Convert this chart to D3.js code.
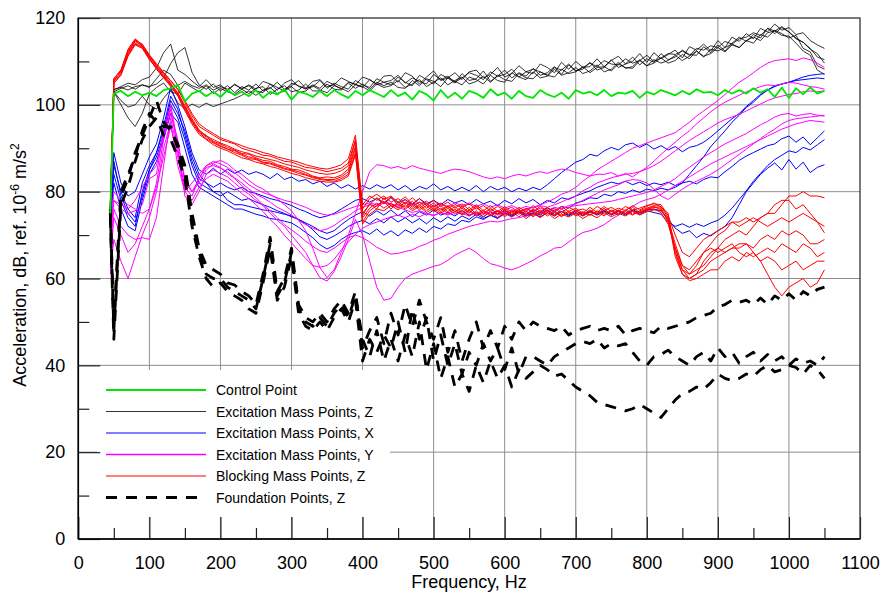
<!DOCTYPE html>
<html>
<head>
<meta charset="utf-8">
<script src="https://cdn.jsdelivr.net/npm/d3@7"></script>
<style>
  body { margin: 0; background: #fff; }
  svg { display: block; font-family: Arial, "Liberation Sans", sans-serif; }
</style>
</head>
<body>
<div id="chart"></div>
<script>
// frequency grid, Hz (45, 50, then every 10 Hz)
const freqs = [
  45, 50, 60, 70, 80, 90, 100, 110, 120, 130,
  140, 150, 160, 170, 180, 190, 200, 210, 220, 230,
  240, 250, 260, 270, 280, 290, 300, 310, 320, 330,
  340, 350, 360, 370, 380, 390, 400, 410, 420, 430,
  440, 450, 460, 470, 480, 490, 500, 510, 520, 530,
  540, 550, 560, 570, 580, 590, 600, 610, 620, 630,
  640, 650, 660, 670, 680, 690, 700, 710, 720, 730,
  740, 750, 760, 770, 780, 790, 800, 810, 820, 830,
  840, 850, 860, 870, 880, 890, 900, 910, 920, 930,
  940, 950, 960, 970, 980, 990, 1000, 1010, 1020, 1030,
  1040, 1050
];

const xTicks = [0, 100, 200, 300, 400, 500, 600, 700, 800, 900, 1000, 1100];
const yTicks = [0, 20, 40, 60, 80, 100, 120];

// control point
const control = [
  75, 102.6, 103.2, 102, 103, 102.2, 102.8, 102, 103.4, 103.8,
  104.6, 100.8, 102.6, 103.2, 102, 103, 101.8, 103.4, 102.2, 103,
  102, 103.4, 101.6, 103, 102.4, 103.6, 101.2, 103, 102.6, 101.8,
  103.2, 102, 103.4, 102.4, 101.6, 103.2, 102.2, 103.4, 102.6, 101.8,
  103.4, 102, 102.8, 101.2, 103.2, 102.4, 101, 103.4, 101.6, 102.8,
  101.4, 103.2, 102.6, 101.6, 103.6, 102.2, 102.8, 101.4, 103.2, 102,
  101.6, 103.4, 102.4, 101.8, 102.8, 101.4, 103.4, 102.6, 103, 102.2,
  103.4, 102, 102.8, 102.6, 103.2, 101.6, 103, 102.4, 103.4, 102.8,
  102.2, 103.2, 102.4, 103.6, 102.8, 103, 102.2, 103.4, 102.6, 103.4,
  102.6, 103.8, 102.8, 103.6, 101.8, 104, 101.6, 103.8, 102.4, 104,
  102.6, 103.2
];

// excitation mass points, Z
const excZ1 = [
  76, 103.5, 104.2, 105, 104.6, 105.8, 106.4, 108.5, 112, 114,
  108, 107, 105.5, 104.2, 105.8, 104, 104.6, 103.2, 104.8, 103.6,
  104.6, 103.6, 105.4, 104.8, 103.4, 105, 105.8, 104.2, 103.8, 105.4,
  105.8, 104.2, 104.6, 106.2, 105.4, 104.6, 106.4, 105.8, 104.8, 106.6,
  106.8, 105.2, 107.4, 106.6, 104.8, 106.4, 107.8, 105.6, 106.2, 107.4,
  105.8, 107.6, 108, 106.2, 107, 108.6, 106.4, 107.2, 109, 107.6,
  107.2, 109.4, 108.6, 107.4, 109.8, 108.2, 110, 108.6, 108.8, 110.6,
  108.8, 110.2, 111.2, 109.4, 110, 111.8, 109.8, 112, 110.6, 111.6,
  112.6, 110.8, 113.4, 112.6, 114, 112.4, 114.8, 113.2, 115.6, 114.6,
  116.4, 115.2, 117.6, 116.8, 118.6, 117.2, 117.8, 116.2, 116.6, 114.8,
  113.8, 113
];
const excZ2 = [
  75, 103, 103.8, 104.4, 103.6, 104.6, 104.2, 104.8, 106.2, 109.5,
  112, 113.2, 107.5, 104.6, 103.6, 104.8, 103.2, 104.4, 102.8, 104.2,
  103.4, 104.8, 103.2, 103.8, 105.2, 103.6, 104.4, 105.6, 103.8, 104.2,
  105.6, 103.8, 105, 104.2, 103.6, 105.6, 104.6, 104, 106, 105.2,
  104.6, 106.4, 105.2, 104.4, 106.8, 105.8, 104.8, 107, 106.2, 105,
  107.2, 105.6, 106, 107.8, 105.4, 106.6, 108, 106.2, 107.4, 106.6,
  108.4, 106.8, 107.4, 108.8, 107, 109.2, 107.8, 108.2, 109.8, 108,
  108.6, 110.4, 108.6, 109.4, 111, 109.2, 110.6, 109.8, 111.8, 110.4,
  111, 112.6, 111.6, 111.4, 113.4, 112, 113.8, 112.4, 114.2, 115.6,
  114.6, 116.2, 115.4, 117.6, 116.4, 117.8, 116.8, 115.2, 114.4, 113,
  111, 110.4
];
const excZ3 = [
  76, 103, 100, 97, 95, 98, 102.5, 104, 105, 103,
  102.5, 105, 104, 103, 104.4, 102.6, 103.8, 103, 102.4, 103.6,
  102.6, 103.8, 104.2, 102.4, 103.6, 104.4, 103, 103.4, 104.8, 103.2,
  103.2, 104.8, 103.6, 103.4, 105, 103.8, 104.8, 103.6, 105.2, 104.4,
  105.2, 104, 103.8, 105.6, 104.4, 106, 105.4, 104.2, 106.2, 105.4,
  104.6, 106.4, 105.8, 104.8, 106.8, 105.6, 105.2, 107.4, 106.4, 105.8,
  107.6, 106.2, 106.6, 108.2, 106.8, 107.4, 108.6, 107.2, 107.8, 109.2,
  107.6, 108.2, 109.8, 108.4, 108.8, 110.4, 109, 109.6, 110.8, 109.6,
  110.2, 111.6, 110.6, 112.4, 111.2, 111.8, 113.2, 112.2, 113.8, 113.2,
  114.8, 114.2, 116.2, 115.6, 117.2, 116.4, 115.4, 116, 113, 112.2,
  109, 108.2
];
const excZ4 = [
  75, 103, 101, 99.5, 100, 102, 100, 99, 101.5, 103.5,
  100.5, 99, 100.2, 99.4, 100.4, 99.6, 100.2, 100.8, 101.4, 102.2,
  103.2, 102.2, 103.4, 104, 102.6, 103.2, 104.2, 102.8, 103.2, 104.4,
  103.4, 102.8, 104.4, 103.8, 103, 104.6, 104.2, 103.2, 104.8, 104,
  104.4, 105.6, 104, 104.8, 105.8, 104.2, 105.2, 106.2, 104.6, 105.6,
  106.4, 104.8, 105.4, 106.6, 105.2, 106.8, 105.8, 105.4, 107.2, 106.2,
  106, 107.6, 106.8, 106.4, 108.2, 107.2, 107.6, 108.8, 107.4, 108.6,
  108.8, 107.8, 109.4, 108.6, 108.4, 110.2, 109, 110.4, 109.6, 110.2,
  111.4, 110.2, 111.2, 112.4, 111, 112.8, 112.4, 113.2, 114, 113.2,
  114.8, 115.6, 114.8, 116.6, 117, 116, 115.8, 114.2, 112.4, 111.4,
  108, 107
];
const excZ5 = [
  76, 103.5, 104, 103.4, 104.2, 104.6, 104, 106, 108, 107,
  104.5, 105.4, 104.4, 103.8, 104.6, 103.4, 104.2, 103.6, 104.6, 103.8,
  104.4, 103.2, 102.8, 104.8, 104, 103.2, 105, 104.4, 103.6, 104.6,
  103.8, 105.4, 104.6, 103.6, 105.2, 104.8, 104, 105.8, 104.6, 105.2,
  105.6, 106.8, 105, 106.2, 105.4, 104.8, 107, 105.8, 106.6, 105.2,
  106.2, 107.4, 106.8, 105.8, 107.6, 106.6, 107, 108.2, 106.4, 107.6,
  108.2, 107.6, 106.8, 108.6, 108, 109.4, 107.8, 108.6, 109.6, 108.8,
  110.2, 109.4, 109.2, 110.6, 109.6, 110.2, 111.4, 110, 110.8, 111.8,
  111.6, 112.4, 111.4, 113, 112.6, 113.6, 113.2, 114.6, 114, 115.2,
  115.6, 116.6, 116, 117.6, 117, 118, 116.8, 115.4, 114.4, 112.8,
  111.8, 109.6
];

// excitation mass points, X
const excX1 = [
  73, 89, 82, 79, 80, 84, 88, 91, 97, 104,
  100, 95, 89, 85, 84, 85.4, 84, 85.2, 84.2, 85,
  84, 84.6, 84, 83, 84.2, 82.8, 83.4, 82.4, 82.8, 81.8,
  82.4, 81.2, 82, 80.8, 81.6, 80.6, 81.4, 80.6, 81.6, 80.8,
  81.6, 80.4, 81.4, 80.2, 81.2, 80.6, 81.8, 80.4, 81.2, 80.2,
  81, 80.2, 81.4, 80, 81.2, 80.4, 81, 80, 80.8, 80.2,
  81, 80.4, 81.6, 83, 84.4, 85.6, 86.8, 87.4, 88.6, 88.2,
  89.4, 90.2, 89.6, 90.8, 91.2, 90.2, 91, 89.8, 90.6, 89.6,
  90.4, 89.2, 90.2, 90.6, 91.4, 92.6, 94, 95.4, 96.8, 98,
  99.6, 101, 102.4, 103.4, 104.2, 104.8, 105.2, 105.6, 105.8, 106,
  106.2, 106
];
const excX2 = [
  75, 86, 80, 76, 74, 82, 86, 89, 95, 102,
  99, 93, 87, 83, 82, 81, 82, 81, 80.4, 81,
  80, 79.6, 79, 78.4, 78, 77.4, 76.8, 76, 75.4, 74.6,
  74, 74.4, 75, 76, 77, 78, 78.4, 77.6, 78.4, 77.2,
  78.6, 77.4, 78.2, 77, 78.4, 77.2, 78, 77, 78.2, 77.4,
  78, 77, 78.2, 77.2, 77.8, 76.8, 78, 77.2, 78.4, 77.4,
  78.2, 77, 78, 77.4, 78.6, 78.2, 79, 79.6, 80.2, 81,
  81.6, 82.2, 81.8, 82.4, 81.6, 82.2, 81.4, 82, 81.6, 82.2,
  81.4, 82, 82.4, 81.8, 82.8, 83.4, 83.2, 84.6, 85.8, 87.2,
  88.2, 89, 89.8, 90.6, 91, 92.2, 92.8, 91.4, 92.6, 90.8,
  92.4, 94
];
const excX3 = [
  72, 84, 78, 74, 72, 80, 85, 88, 93, 100,
  97, 92, 86, 82, 81, 80, 79, 80, 79, 78,
  78.4, 77.6, 77, 76.4, 75.6, 75, 74.2, 73.6, 72.8, 72,
  71, 70.4, 71, 72.4, 73.6, 74.6, 75.4, 74.4, 75.6, 74.6,
  75.8, 74.4, 75.6, 74.2, 75.4, 74.6, 75.8, 74.6, 75.2, 74.4,
  75.6, 74.6, 75.2, 74.2, 75.4, 74.8, 75.6, 74.6, 75.4, 74.4,
  75.2, 74.6, 75.8, 74.8, 75.4, 74.4, 75.6, 74.8, 75.4, 74.6,
  75.4, 74.8, 75.6, 75, 75.8, 75.2, 75.8, 76, 75.6, 73.6,
  71.6, 70.4, 71, 69.4, 70.4, 69.8, 71, 72, 74, 77,
  80, 82, 84, 85.4, 86.6, 85, 87.4, 85.2, 86.8, 84.4,
  85.6, 86.2
];
const excX4 = [
  74, 82, 76, 72, 71, 78, 84, 87, 92, 98,
  96, 90, 84, 81, 80, 79, 78, 77, 76, 76,
  75.4, 74.8, 74.4, 73.8, 73.6, 73.2, 72.8, 71.8, 70.6, 69.4,
  67.8, 66.8, 67.6, 69, 70, 70.6, 71, 70.2, 71.4, 70,
  71, 69.8, 71.2, 70.4, 71.6, 70.6, 72, 71.4, 72.6, 72.2,
  73.4, 73, 74.2, 73.6, 74.6, 74, 75.2, 74.4, 75.6, 74.8,
  75.8, 75.2, 76.2, 75.6, 76.6, 76.2, 77.4, 77.8, 78.6, 78.4,
  79.4, 79, 80, 79.6, 80.4, 79.8, 80.6, 80.2, 80.8, 80.4,
  81, 82, 84, 86, 88, 90.4, 92.2, 94, 96, 97.6,
  99.4, 100.6, 102.2, 103.4, 104.4, 104.8, 105.2, 105.8, 106.4, 106.8,
  107, 107.2
];
const excX5 = [
  76, 87, 79, 75, 73, 79, 85, 89, 94, 101,
  98, 94, 88, 84, 82, 80, 80, 78, 77, 77,
  76.6, 76.2, 75.8, 75.6, 75.2, 74.8, 74.4, 73.6, 72.6, 71.2,
  69.6, 69, 69.8, 70.8, 72, 72.8, 73.4, 72.6, 73.8, 72.8,
  74.2, 73, 74, 72.8, 73.8, 72.6, 74, 73, 74.2, 73.2,
  74.4, 73.6, 74.8, 73.8, 74.6, 73.8, 75, 74.2, 75.2, 74.4,
  75, 74.2, 75.2, 74.4, 75.4, 74.6, 75.2, 74.4, 75.6, 74.8,
  75.6, 74.6, 75.4, 74.6, 75.6, 74.8, 75.6, 75.2, 74.8, 73,
  72, 72.6, 71.8, 72.6, 72, 72.8, 73.4, 74.6, 76.2, 78.2,
  80.2, 82.4, 84.2, 86, 87.4, 88.4, 89.4, 89, 90.2, 89.6,
  90.8, 92
];

// excitation mass points, Y
const excY1 = [
  61, 69, 64, 60, 65, 70, 74, 80, 90, 96,
  86, 80, 82, 84, 86, 86.6, 87.2, 86.4, 85, 84,
  82.6, 81.4, 80.6, 79.4, 78.4, 77, 75.6, 73.4, 71, 67,
  62.5, 60.2, 62, 66, 70, 75, 80, 84.6, 86.2, 86,
  85.4, 85.8, 85.2, 86, 85.4, 85, 84.6, 84.2, 84.8, 85.2,
  85, 84.6, 84, 83.4, 83, 83.4, 83, 83.6, 84, 83.6,
  84.2, 84.6, 84.2, 84.8, 85.2, 85, 84.4, 84, 83.6, 84,
  84, 84.4, 83.6, 84.2, 83.4, 84.6, 85.6, 87, 88.6, 90,
  91.4, 92.8, 94, 95.6, 97, 98.4, 99.6, 100.6, 101.4, 102.2,
  103, 103.6, 104.2, 104.6, 104.4, 104.8, 105.2, 105, 104.6, 104.2,
  104, 103.6
];
const excY2 = [
  66, 76, 72, 70, 69, 69.4, 69, 74, 86, 97,
  89, 81, 79, 83, 85.6, 86, 85.4, 84.6, 83.2, 82,
  80.6, 79.4, 78.6, 77.6, 76.4, 75.6, 74.6, 73.4, 72.4, 71.6,
  71, 71.4, 72.2, 73.4, 74.4, 75.6, 76.4, 77, 76.6, 77.4,
  77, 76.4, 75.8, 75.2, 75.6, 75, 74.6, 75.2, 74.8, 75.4,
  75, 74.4, 75.2, 74.8, 75.4, 74.6, 75.2, 75.8, 75.4, 76,
  76.4, 77, 77.6, 78.4, 79.4, 80, 81, 82.4, 83.6, 85,
  86, 87, 88, 89, 90, 90.6, 91.2, 91.8, 92.4, 93,
  93.6, 94.8, 96, 97.4, 98.6, 99.8, 101, 102.4, 103.8, 105.2,
  106.2, 107.4, 108.6, 109.6, 110.2, 110.4, 110.6, 110.2, 110.8, 110.4,
  109.6, 108.6
];
const excY3 = [
  70, 80, 78, 77, 76, 75, 76, 82, 92, 99,
  90, 79, 77, 80, 84, 85, 84.2, 83.4, 82, 80.6,
  79.4, 78, 76.8, 75, 73.4, 72, 70, 68, 66, 63,
  60.2, 59.4, 61.6, 65, 69, 73.6, 70, 64, 58, 55,
  55.4, 58, 60, 61, 61.6, 62.2, 62.8, 63.2, 64.2, 65.4,
  66.2, 67, 66, 64.6, 63.4, 63, 62.4, 62, 62.6, 63.4,
  64.2, 65.2, 66, 67, 67.2, 68.4, 69.6, 70.6, 71, 71.6,
  72.4, 73.6, 74.6, 75.8, 76.6, 77.6, 78.2, 78.6, 79.4, 80.4,
  81.4, 82.4, 83.4, 84.4, 85.4, 86.4, 87.2, 88, 88.8, 89.6,
  90.4, 91.2, 92, 92.8, 93.6, 94.4, 95, 95.6, 96, 96.4,
  96.2, 96
];
const excY4 = [
  68, 78, 76, 75, 75.6, 77, 83, 84, 94, 100,
  91, 83, 80, 82, 85, 86.4, 85.6, 84.2, 83, 81.4,
  80, 78.6, 77, 75.6, 74, 72.4, 71.2, 70, 68.6, 67.4,
  66.4, 66, 67, 68.2, 69.4, 70, 69.4, 68.4, 67.2, 66.4,
  65.6, 65.8, 66.2, 66.6, 67.4, 68, 68.8, 69.4, 70.2, 70.8,
  71.4, 72, 72.4, 72.8, 73.2, 73, 73.4, 73.8, 74, 74.4,
  74.6, 75, 75.4, 75.8, 76.2, 76.4, 76.8, 77, 77.2, 77.4,
  77.6, 77.8, 78.2, 78.6, 79, 79.4, 79.8, 80.4, 81.2, 82,
  83, 84.4, 85.6, 86.8, 88, 89, 90, 91, 91.8, 92.6,
  93.4, 94.4, 95.4, 96.2, 97.2, 97.8, 98, 97.4, 97.8, 98,
  97.6, 97.4
];
const excY5 = [
  63, 74, 70, 66, 68, 72, 76, 81, 88, 95,
  88, 80, 78, 81, 83, 84, 83.2, 82.4, 81, 79.6,
  78.4, 77, 75.4, 73.6, 72, 70, 68.2, 66.4, 64.6, 63,
  62.6, 63, 64.4, 66.6, 68.4, 70.2, 71.6, 72.4, 73, 73.6,
  74.2, 74.6, 74, 74.8, 74.2, 75, 74.4, 75.2, 74.6, 75.4,
  74.8, 75.6, 74.6, 75.4, 74.8, 75.6, 75, 75.8, 75.2, 76,
  75.4, 76.2, 75.6, 76.4, 76, 76.8, 77.2, 78, 78.8, 79.6,
  80.4, 81, 81.6, 82.4, 82.8, 82.6, 82, 80.6, 79, 78.2,
  79.4, 80.6, 81.6, 82.4, 83.2, 84, 85, 86.2, 87.4, 88.6,
  89.8, 91, 92.2, 93.4, 94.4, 95.6, 96.4, 96.8, 97, 97.2,
  97.4, 97.6
];
const excY6 = [
  72, 78, 77, 76, 78, 81, 84, 86, 93, 98,
  92, 82, 80, 83, 86, 87, 86.4, 85.6, 84.4, 83,
  81.6, 80.6, 79.8, 79.2, 78.6, 78, 77.6, 77, 76.4, 75.6,
  75, 74.6, 74.8, 75.4, 76, 76.6, 77, 77.4, 77, 77.6,
  77.2, 76.6, 77.4, 76.8, 77.6, 77, 76.4, 77.2, 76.6, 77.4,
  76.8, 77.4, 76.6, 77.2, 76.4, 77, 76.2, 76.8, 76, 76.6,
  76.2, 76.8, 76.4, 77, 77.6, 78.4, 79, 80.2, 81, 82,
  82.6, 83.2, 83.6, 84, 84.2, 84.6, 85.2, 86, 87, 88.2,
  89.4, 90.6, 91.8, 92.8, 93.8, 94.8, 95.8, 96.6, 97.2, 97.8,
  98.6, 99.4, 100.2, 101, 101.6, 102, 102.4, 102.6, 103, 103.2,
  103, 103.2
];

// blocking mass points, Z
const blockZ1 = [
  76, 106, 108, 112.5, 115, 114, 111.5, 109.5, 107.5, 105.5,
  103.5, 100.5, 97.5, 95, 94, 93, 92, 91.5, 91, 90,
  89.5, 89, 88.4, 88.2, 87.6, 87, 86.8, 86.2, 85.6, 85.4,
  85, 84.6, 85, 85.4, 86.6, 92, 77, 79, 78, 79,
  77.6, 78.4, 77.2, 78.6, 77, 77.8, 76.6, 77.4, 76.2, 77,
  76.4, 77.2, 76, 76.8, 75.6, 76.6, 75.8, 76.4, 75.2, 76.2,
  75.4, 76.6, 75.6, 76.2, 75, 76.4, 75.6, 76, 75.2, 76.6,
  75.6, 76.4, 75.4, 76.6, 75.8, 76.2, 76.8, 77.2, 77, 74.5,
  70, 66, 65, 67, 69, 70, 71, 72, 73, 73,
  74, 73, 74, 75, 75, 77, 79, 79, 80, 79,
  79, 78.6
];
const blockZ2 = [
  75, 105.5, 107.6, 112, 114.6, 113.6, 111, 109, 107.2, 105,
  102.6, 99.5, 96.5, 94, 93, 91.6, 91, 90.2, 89.6, 88.8,
  88.6, 87.8, 87.2, 87, 86.2, 85.8, 85.2, 85, 84.4, 83.6,
  83.2, 83.4, 83.2, 83.8, 85.2, 90.5, 75, 77, 78.6, 77.4,
  78.8, 76.8, 78.2, 76.4, 77.6, 76.2, 77.4, 75.8, 76.8, 75.4,
  76.6, 75.2, 76.8, 74.8, 76, 75, 76.2, 74.6, 75.8, 74.8,
  76, 75, 75.8, 74.6, 76, 74.8, 75.6, 74.6, 75.8, 74.8,
  76.2, 74.6, 75.8, 75, 76.4, 75.2, 76, 76.6, 75.8, 73.5,
  68, 63, 62, 64, 66, 68, 70, 71, 73, 72,
  73, 74, 73, 72, 73, 74, 73, 74, 75, 74,
  73, 72
];
const blockZ3 = [
  77, 105, 107, 111.5, 114, 113.4, 110.6, 108.6, 106.6, 104.6,
  102.4, 99, 96, 93.6, 92.2, 91.2, 90.4, 89.8, 89, 88.4,
  87.6, 87.4, 86.6, 86.4, 85.8, 85.2, 84.8, 84.2, 83.8, 83.2,
  82.8, 82.6, 82.4, 83, 84, 89, 73, 75.6, 76.8, 77.8,
  76, 77.6, 76.4, 77.8, 76.2, 77.4, 75.8, 76.8, 75.4, 76.6,
  75, 76.4, 74.8, 75.8, 74.4, 75.6, 74.6, 75.4, 74.2, 75.4,
  74.6, 75.8, 74.4, 75.4, 74.2, 75.6, 74.4, 75.2, 74.6, 75.6,
  74.8, 75.6, 74.6, 75.8, 74.8, 75.4, 75.8, 76, 75.2, 72.5,
  67, 62, 61, 62, 63, 65, 67, 69, 70, 71,
  70, 72, 74, 75, 77, 78, 78, 76, 77, 75,
  73, 70.5
];
const blockZ4 = [
  74, 106, 108, 112.8, 115.2, 113.8, 111.4, 109.2, 107.4, 105.6,
  103.6, 101, 98, 95.6, 94.4, 93.4, 92.4, 91.8, 91.2, 90.6,
  90, 89.6, 89, 88.6, 88, 87.6, 87.2, 86.8, 86.2, 85.8,
  85.4, 85.2, 85.6, 86.2, 87.6, 93, 76, 78.4, 79.4, 78.2,
  79, 77.6, 78.8, 77.2, 78.4, 76.8, 78, 76.6, 77.6, 76.2,
  77.2, 75.8, 77, 75.6, 76.8, 75.4, 76.6, 75.2, 76.4, 75.4,
  76.8, 75.4, 76.4, 75.2, 76.6, 75.4, 76.2, 75, 76.4, 75.2,
  76.6, 75.4, 76.2, 75.6, 76.8, 75.8, 76.6, 77.4, 76.4, 75,
  66, 61, 60, 61, 62, 64, 65, 66, 67, 68,
  68, 67, 69, 70, 69, 71, 70, 71, 70, 68,
  68, 69
];
const blockZ5 = [
  75, 105, 106.8, 111.2, 113.8, 113, 110.4, 108.4, 106.4, 104.2,
  102, 98.6, 95.6, 93.2, 92, 90.8, 90, 89.4, 88.6, 87.8,
  87.4, 86.8, 86.4, 85.8, 85.4, 84.8, 84.2, 83.8, 83.2, 82.8,
  82.4, 82.2, 82.2, 82.6, 83.6, 88.5, 72.5, 74.8, 76, 75.6,
  76.8, 75.8, 77, 75.6, 76.6, 75.2, 76.2, 75, 76.2, 74.8,
  75.8, 74.4, 75.6, 74.2, 75.4, 74, 75.2, 74.2, 75.4, 73.8,
  75, 74, 75.2, 73.8, 74.8, 74.2, 75, 73.8, 74.8, 74,
  75.2, 74.2, 75, 74.4, 75.4, 74.6, 75.4, 75.8, 75.6, 74,
  65, 61, 59.5, 60, 61, 62, 62, 64, 65, 64,
  66, 65, 66, 67, 66, 68, 67, 66, 68, 67,
  65, 66
];
const blockZ6 = [
  76, 106, 107.8, 112.2, 114.8, 113.6, 111.2, 108.8, 106.8, 104.8,
  102.8, 99.8, 96.8, 94.2, 92.8, 92, 91.2, 90.6, 89.8, 89.2,
  88.8, 88.2, 87.8, 87.4, 87, 86.4, 86, 85.6, 85, 84.6,
  84.2, 84, 84.2, 84.8, 86, 91.5, 74, 76.2, 77.4, 76.2,
  77.4, 76.2, 77.6, 76, 77, 75.6, 76.8, 75.4, 76.6, 75.4,
  76.2, 75, 76.4, 75, 76.2, 74.8, 75.8, 74.8, 76, 74.6,
  75.6, 74.6, 75.6, 74.4, 75.4, 74.8, 75.8, 74.4, 75.2, 74.8,
  75.8, 75, 75.6, 74.8, 75.6, 75, 75.8, 76.4, 76.2, 73,
  67, 63, 61, 63, 66, 67, 66, 67, 68, 66,
  65, 66, 64, 65, 64, 62, 63, 64, 62, 63,
  64, 64
];
const blockZ7 = [
  77, 105.5, 107.2, 111.6, 114.2, 113.2, 110.8, 108.2, 106.2, 104.4,
  102.2, 99.2, 96.2, 93.8, 92.6, 91.4, 90.6, 89.8, 89.4, 88.6,
  88, 87.6, 86.8, 86.6, 86, 85.4, 85, 84.6, 84, 83.4,
  83, 82.8, 82.8, 83.4, 84.6, 90, 74.5, 77.2, 76, 78.6,
  76.6, 77.2, 76, 77.2, 75.8, 76.8, 75.4, 76.2, 75, 76,
  74.6, 75.8, 74.4, 75.4, 74.8, 75.6, 74.2, 75.6, 74.8, 75.6,
  74.2, 75.4, 74.8, 75.6, 74.4, 75.2, 74.8, 75.4, 74.6, 75.4,
  74.4, 75.8, 74.8, 75.4, 74.6, 75.6, 76.2, 76.8, 76.6, 74,
  66, 62, 60, 61, 64, 66, 67, 66, 67, 67,
  68, 66, 64, 61, 58, 56, 58, 59, 60, 58,
  59, 62
];

// foundation points, Z
const foundZ1 = [
  76, 48, 79, 83, 89, 93, 97, 101, 96, 94,
  91, 86, 75, 67, 63, 62, 61, 59, 58.5, 57,
  56, 54, 61, 69.5, 57, 60, 67, 54, 51, 50,
  52, 50, 53, 55, 52, 57, 44, 48, 51, 45,
  52, 47, 54, 49, 55, 50, 46, 51, 43, 48,
  41, 46, 50, 44, 48, 44, 49, 46, 50, 48,
  50, 49, 48.5, 48, 49, 47, 48, 48.5, 49, 48,
  48.5, 48, 49, 47, 48, 48.5, 48, 47.5, 49, 48.5,
  49, 49.5, 50, 51, 51.5, 52, 53.5, 54, 55, 54.5,
  55, 54, 55.5, 54, 56, 55, 56.5, 55, 57, 56,
  57.5, 58
];
const foundZ2 = [
  74, 46, 77, 81, 87, 92, 95, 97, 93, 92,
  88, 83, 72, 65, 60, 58, 59, 57, 56, 55,
  53, 52, 59, 67, 55, 58, 65, 52, 49, 48,
  50, 48, 51, 53, 50, 55, 41, 46, 43, 47,
  44, 50, 43, 53, 46, 51, 41, 47, 40, 45,
  38, 43, 40, 45, 41, 44, 39, 44, 38, 42,
  42, 41, 40, 42, 43, 44, 45, 45.5, 45, 46,
  44, 45, 44.5, 45, 43, 41, 40, 42, 42.5, 43.5,
  42, 41, 40, 42, 43, 41, 44, 42, 43, 40.5,
  42, 43, 41, 42.5, 41, 42, 40, 41.5, 40.5, 41,
  40, 42
];
const foundZ3 = [
  75, 50, 80, 84, 88, 94, 98, 96, 95, 95,
  90, 84, 73, 66, 61, 60, 60, 58, 57, 56,
  55, 53, 60, 68, 56, 59, 66, 53, 50, 49,
  51, 49, 52, 54, 51, 56, 46, 42, 48, 41,
  46, 41, 47, 42, 50, 39, 45, 37, 42, 35,
  38, 34, 40, 36, 41, 37, 40, 35, 39, 37,
  38.5, 40, 39, 37.5, 38, 36.5, 35, 34, 33, 31.5,
  31, 30.5, 30, 29.5, 30, 31, 30, 29, 28, 30,
  32, 33.5, 34, 35, 34.5, 36, 38, 37, 36.5, 37,
  38, 37.5, 39, 40, 38.5, 39, 40, 39.5, 38, 40,
  39, 37
];

const groups = [
  { name: "Excitation Mass Points, Z", series: [excZ1, excZ2, excZ3, excZ4, excZ5], color: "#000", width: 0.8 },
  { name: "Excitation Mass Points, X", series: [excX1, excX2, excX3, excX4, excX5], color: "#0000ff", width: 1 },
  { name: "Excitation Mass Points, Y", series: [excY1, excY2, excY3, excY4, excY5, excY6], color: "#ff00ff", width: 1 },
  { name: "Blocking Mass Points, Z", series: [blockZ1, blockZ2, blockZ3, blockZ4, blockZ5, blockZ6, blockZ7], color: "#ff0000", width: 1 },
  { name: "Foundation Points, Z", series: [foundZ1, foundZ2, foundZ3], color: "#000", width: 2.8, dash: "11,9" },
  { name: "Control Point", series: [control], color: "#00e600", width: 1.8 }
];

const legendItems = [
  { label: "Control Point", color: "#00e600", width: 1.8 },
  { label: "Excitation Mass Points, Z", color: "#000", width: 0.8 },
  { label: "Excitation Mass Points, X", color: "#0000ff", width: 1 },
  { label: "Excitation Mass Points, Y", color: "#ff00ff", width: 1.4 },
  { label: "Blocking Mass Points, Z", color: "#ff0000", width: 1 },
  { label: "Foundation Points, Z", color: "#000", width: 2.8, dash: "11,9" }
];

const W = 887, H = 595;
const M = { left: 78.3, right: 860, top: 18, bottom: 539 };

const svg = d3.select("#chart").append("svg")
  .attr("width", W).attr("height", H).attr("viewBox", `0 0 ${W} ${H}`);

const x = d3.scaleLinear().domain([0, 1100]).range([M.left, M.right]);
const y = d3.scaleLinear().domain([0, 120]).range([M.bottom, M.top]);

// grid
svg.append("g").selectAll("line").data(xTicks.slice(1, -1)).join("line")
  .attr("x1", d => x(d)).attr("x2", d => x(d))
  .attr("y1", M.top).attr("y2", M.bottom)
  .attr("stroke", "#8f8f8f").attr("stroke-width", 1);
svg.append("g").selectAll("line").data(yTicks.slice(1, -1)).join("line")
  .attr("x1", M.left).attr("x2", M.right)
  .attr("y1", d => y(d)).attr("y2", d => y(d))
  .attr("stroke", "#8f8f8f").attr("stroke-width", 1);

// legend box hides the grid behind it
svg.append("rect")
  .attr("x", 97).attr("y", 370).attr("width", 293).attr("height", 147)
  .attr("fill", "#fff");

// data
const line = d3.line().x((d, i) => x(freqs[i])).y(d => y(d));
const plot = svg.append("g");
groups.forEach(g => {
  plot.append("g").selectAll("path").data(g.series).join("path")
    .attr("d", line)
    .attr("fill", "none")
    .attr("stroke", g.color)
    .attr("stroke-width", g.width)
    .attr("stroke-dasharray", g.dash || null)
    .attr("stroke-linejoin", "round");
});

// axes with inside ticks
const xMinor = d3.axisBottom(x).tickValues(d3.range(50, 1100, 100)).tickSize(-11).tickFormat("").tickSizeOuter(0);
const xMajor = d3.axisBottom(x).tickValues(xTicks).tickSize(-22).tickPadding(17).tickSizeOuter(0).tickFormat(d3.format("d"));
const yMinor = d3.axisLeft(y).tickValues(d3.range(10, 120, 20)).tickSize(-11).tickFormat("").tickSizeOuter(0);
const yMajor = d3.axisLeft(y).tickValues(yTicks).tickSize(-22).tickPadding(13).tickSizeOuter(0).tickFormat(d3.format("d"));

[xMinor, xMajor].forEach(a => svg.append("g").attr("transform", `translate(0,${M.bottom})`).call(a));
[yMinor, yMajor].forEach(a => svg.append("g").attr("transform", `translate(${M.left},0)`).call(a));

svg.selectAll(".tick line").attr("stroke", "#222").attr("stroke-width", 1.2);
svg.selectAll(".domain").remove();
svg.selectAll(".tick text").attr("font-size", 18).attr("fill", "#000")
  .attr("font-family", "Arial, 'Liberation Sans', sans-serif");

// frame
svg.append("rect")
  .attr("x", M.left).attr("y", M.top)
  .attr("width", M.right - M.left).attr("height", M.bottom - M.top)
  .attr("fill", "none").attr("stroke", "#333").attr("stroke-width", 1.3);
svg.append("line").attr("x1", M.left).attr("x2", M.left).attr("y1", M.top).attr("y2", M.bottom)
  .attr("stroke", "#000").attr("stroke-width", 1.6);
svg.append("line").attr("x1", M.left).attr("x2", M.right).attr("y1", M.bottom).attr("y2", M.bottom)
  .attr("stroke", "#000").attr("stroke-width", 1.6);

// legend
const leg = svg.append("g");
legendItems.forEach((d, i) => {
  const ly = 390 + i * 21.5;
  leg.append("line")
    .attr("x1", 106).attr("x2", 206).attr("y1", ly).attr("y2", ly)
    .attr("stroke", d.color).attr("stroke-width", d.width)
    .attr("stroke-dasharray", d.dash || null);
  leg.append("text")
    .attr("x", 216).attr("y", ly + 5)
    .attr("font-size", 14).attr("fill", "#000")
    .text(d.label);
});

// axis titles
svg.append("text")
  .attr("x", 469).attr("y", 588)
  .attr("text-anchor", "middle").attr("font-size", 18)
  .text("Frequency, Hz");

const yt = svg.append("text")
  .attr("transform", "translate(26,265) rotate(-90)")
  .attr("text-anchor", "middle").attr("font-size", 18);
yt.append("tspan").text("Acceleration, dB, ref. 10");
yt.append("tspan").attr("dy", -7).attr("font-size", 12).text("-6");
yt.append("tspan").attr("dy", 7).text(" m/s");
yt.append("tspan").attr("dy", -7).attr("font-size", 12).text("2");
</script>
</body>
</html>
